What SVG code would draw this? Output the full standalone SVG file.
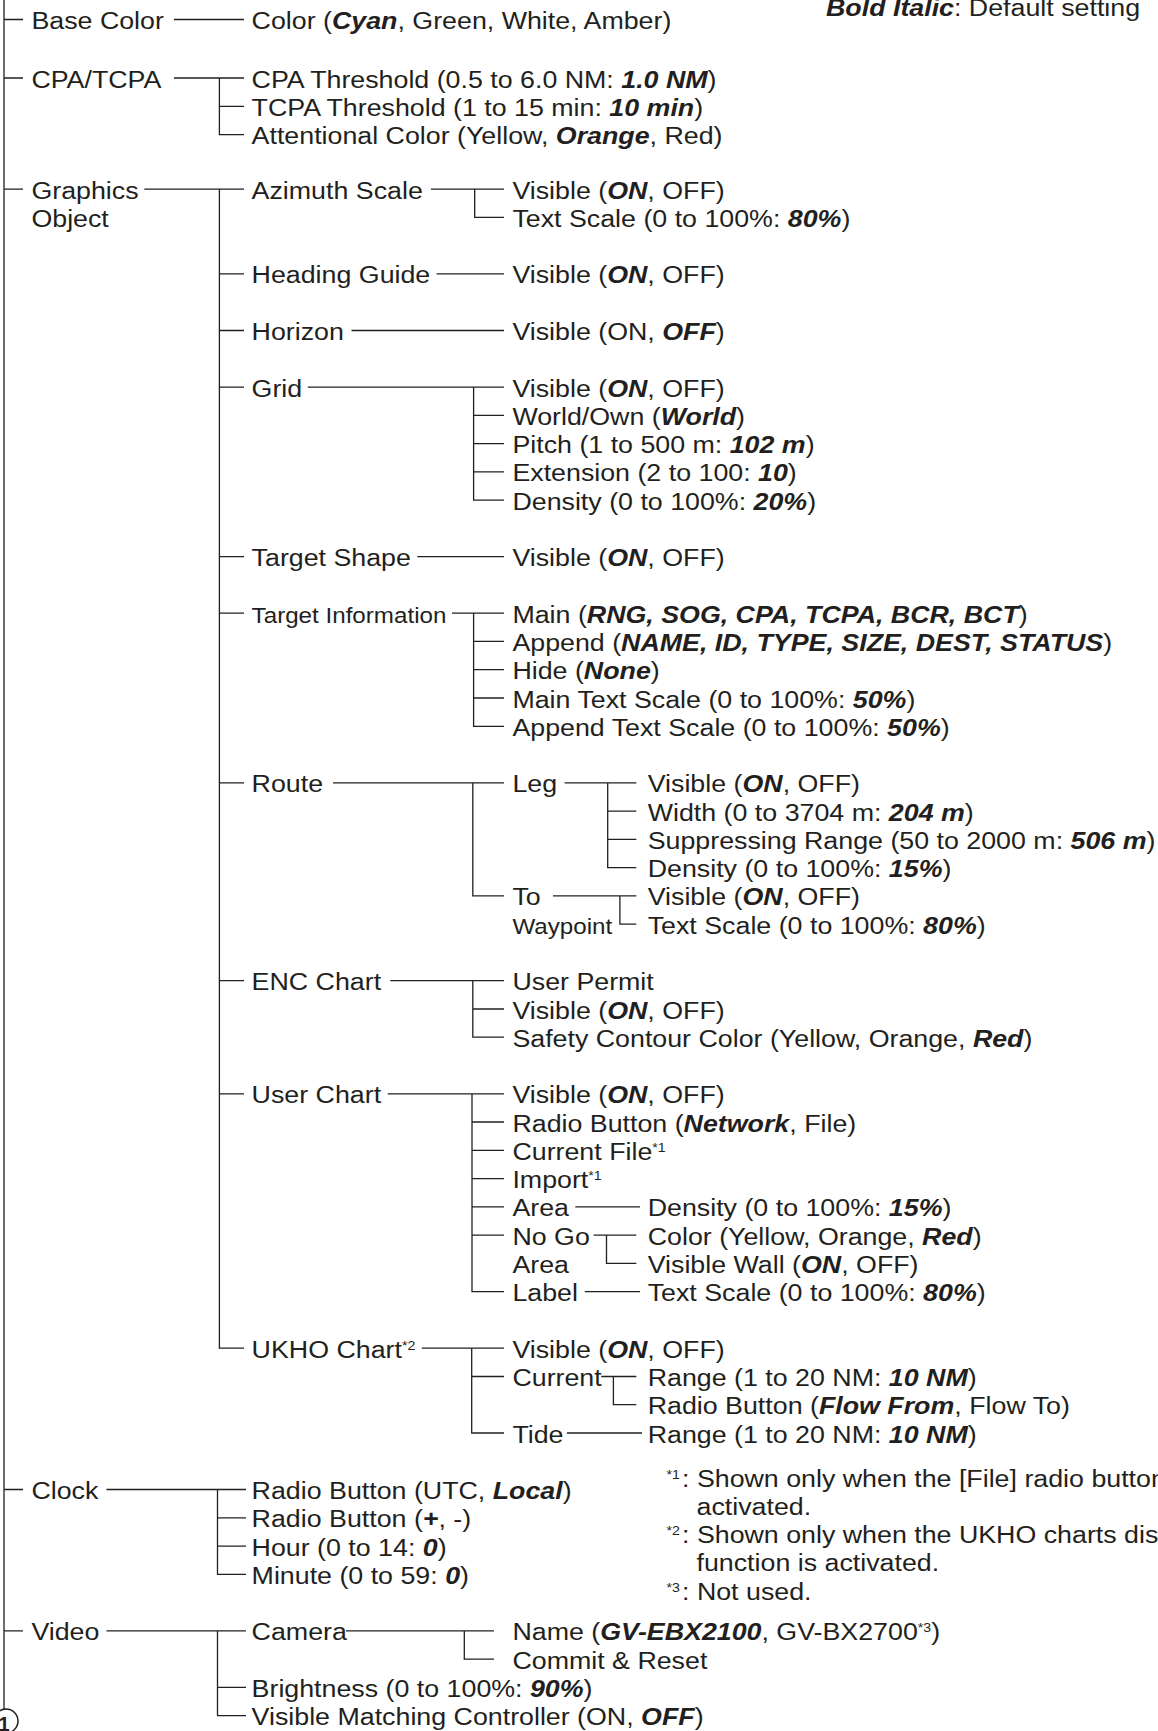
<svg xmlns="http://www.w3.org/2000/svg" width="1158" height="1731" viewBox="0 0 1158 1731">
<style>
text{font-family:"Liberation Sans",Arial,Helvetica,sans-serif;font-size:24.5px;fill:#231f20}
text.sm{font-size:22.5px}
.bi{font-weight:bold;font-style:italic}
.sup{font-size:13px}
#connectors path{stroke:#231f20;stroke-width:1.3;fill:none}
</style>
<rect width="1158" height="1731" fill="#ffffff"/>
<g id="connectors">
<path d="M4 0V1709M4 19.5H23M4 78H23M4 189.1H23M4 1489.5H23M4 1630.9H23"/>
<path d="M174 19.5H244"/>
<path d="M174 78H244M219.4 78V134.6H244M219.4 106.3H244"/>
<path d="M144.3 189.1H244M219.4 189.1V1348.2H244M219.4 273.9H244M219.4 330.5H244M219.4 387.1H244M219.4 556.6H244M219.4 613.2H244M219.4 782.8H244M219.4 980.7H244M219.4 1093.8H244"/>
<path d="M431 189.1H504M474.7 189.1V217.4H504"/>
<path d="M436.6 273.9H504"/>
<path d="M351.5 330.5H504"/>
<path d="M307.8 387.1H504M473.6 387.1V500.1H504M473.6 415.3H504M473.6 443.6H504M473.6 471.8H504"/>
<path d="M417.3 556.6H504"/>
<path d="M452 613.2H504M473.6 613.2V726.3H504M473.6 641.4H504M473.6 669.7H504M473.6 698H504"/>
<path d="M333 782.8H504M472.8 782.8V895.9H504"/>
<path d="M564.6 782.8H636.3M607.7 782.8V867.6H636.3M607.7 811.1H636.3M607.7 839.3H636.3"/>
<path d="M553 895.9H636.3M619.9 895.9V924.1H636.3"/>
<path d="M390.3 980.7H504M472.8 980.7V1037.2H504M472.8 1009H504"/>
<path d="M387.7 1093.8H504M472 1093.8V1291.7H504M472 1122H504M472 1150.3H504M472 1178.6H504M472 1206.8H504M472 1235.1H504"/>
<path d="M575.3 1206.8H640"/>
<path d="M593.6 1235.1H636.3M606.5 1235.1V1263.4H636.3"/>
<path d="M584.8 1291.7H640"/>
<path d="M421.8 1348.2H504M471.7 1348.2V1433H504M471.7 1376.5H504"/>
<path d="M601.2 1376.5H636.3M613.4 1376.5V1404.7H636.3"/>
<path d="M566.9 1433H642"/>
<path d="M106.5 1489.5H246M217.5 1489.5V1574.4H246M217.5 1517.8H246M217.5 1546.1H246"/>
<path d="M106.5 1630.9H246M217.5 1630.9V1715.7H246M217.5 1687.4H246"/>
<path d="M346 1630.9H494M464.3 1630.9V1659.2H494"/>
</g>
<g id="legend"><text transform="matrix(1.094 0 0 1 826 16)"><tspan class="bi">Bold Italic</tspan>: Default setting</text></g>
<g id="base-color"><text transform="matrix(1.094 0 0 1 31.4 29)">Base Color</text></g>
<g id="color"><text transform="matrix(1.094 0 0 1 251.6 29)">Color (<tspan class="bi">Cyan</tspan>, Green, White, Amber)</text></g>
<g id="cpa-tcpa"><text transform="matrix(1.094 0 0 1 31.4 87.5)">CPA/TCPA</text></g>
<g id="cpa-threshold"><text transform="matrix(1.094 0 0 1 251.6 87.5)">CPA Threshold (0.5 to 6.0 NM: <tspan class="bi">1.0 NM</tspan>)</text></g>
<g id="tcpa-threshold"><text transform="matrix(1.094 0 0 1 251.6 115.8)">TCPA Threshold (1 to 15 min: <tspan class="bi">10 min</tspan>)</text></g>
<g id="attentional-color"><text transform="matrix(1.094 0 0 1 251.6 144.1)">Attentional Color (Yellow, <tspan class="bi">Orange</tspan>, Red)</text></g>
<g id="graphics-object"><text transform="matrix(1.094 0 0 1 31.4 198.6)">Graphics</text><text transform="matrix(1.094 0 0 1 31.4 226.9)">Object</text></g>
<g id="azimuth-scale"><text transform="matrix(1.094 0 0 1 251.6 198.6)">Azimuth Scale</text></g>
<g id="az-visible"><text transform="matrix(1.094 0 0 1 512.4 198.6)">Visible (<tspan class="bi">ON</tspan>, OFF)</text></g>
<g id="az-text-scale"><text transform="matrix(1.094 0 0 1 512.4 226.9)">Text Scale (0 to 100%: <tspan class="bi">80%</tspan>)</text></g>
<g id="heading-guide"><text transform="matrix(1.094 0 0 1 251.6 283.4)">Heading Guide</text></g>
<g id="hg-visible"><text transform="matrix(1.094 0 0 1 512.4 283.4)">Visible (<tspan class="bi">ON</tspan>, OFF)</text></g>
<g id="horizon"><text transform="matrix(1.094 0 0 1 251.6 340)">Horizon</text></g>
<g id="hz-visible"><text transform="matrix(1.094 0 0 1 512.4 340)">Visible (ON, <tspan class="bi">OFF</tspan>)</text></g>
<g id="grid"><text transform="matrix(1.094 0 0 1 251.6 396.5)">Grid</text></g>
<g id="grid-visible"><text transform="matrix(1.094 0 0 1 512.4 396.5)">Visible (<tspan class="bi">ON</tspan>, OFF)</text></g>
<g id="grid-world"><text transform="matrix(1.094 0 0 1 512.4 424.8)">World/Own (<tspan class="bi">World</tspan>)</text></g>
<g id="grid-pitch"><text transform="matrix(1.094 0 0 1 512.4 453.1)">Pitch (1 to 500 m: <tspan class="bi">102 m</tspan>)</text></g>
<g id="grid-extension"><text transform="matrix(1.094 0 0 1 512.4 481.3)">Extension (2 to 100: <tspan class="bi">10</tspan>)</text></g>
<g id="grid-density"><text transform="matrix(1.094 0 0 1 512.4 509.6)">Density (0 to 100%: <tspan class="bi">20%</tspan>)</text></g>
<g id="target-shape"><text transform="matrix(1.094 0 0 1 251.6 566.1)">Target Shape</text></g>
<g id="ts-visible"><text transform="matrix(1.094 0 0 1 512.4 566.1)">Visible (<tspan class="bi">ON</tspan>, OFF)</text></g>
<g id="target-information"><text class="sm" transform="matrix(1.075 0 0 1 251.6 622.7)">Target Information</text></g>
<g id="ti-main"><text transform="matrix(1.094 0 0 1 512.4 622.7)">Main (<tspan class="bi">RNG, SOG, CPA, TCPA, BCR, BCT</tspan>)</text></g>
<g id="ti-append"><text transform="matrix(1.094 0 0 1 512.4 650.9)">Append (<tspan class="bi">NAME, ID, TYPE, SIZE, DEST, STATUS</tspan>)</text></g>
<g id="ti-hide"><text transform="matrix(1.094 0 0 1 512.4 679.2)">Hide (<tspan class="bi">None</tspan>)</text></g>
<g id="ti-main-scale"><text transform="matrix(1.094 0 0 1 512.4 707.5)">Main Text Scale (0 to 100%: <tspan class="bi">50%</tspan>)</text></g>
<g id="ti-append-scale"><text transform="matrix(1.094 0 0 1 512.4 735.8)">Append Text Scale (0 to 100%: <tspan class="bi">50%</tspan>)</text></g>
<g id="route"><text transform="matrix(1.094 0 0 1 251.6 792.3)">Route</text></g>
<g id="leg"><text transform="matrix(1.094 0 0 1 512.4 792.3)">Leg</text></g>
<g id="leg-visible"><text transform="matrix(1.094 0 0 1 647.7 792.3)">Visible (<tspan class="bi">ON</tspan>, OFF)</text></g>
<g id="leg-width"><text transform="matrix(1.094 0 0 1 647.7 820.6)">Width (0 to 3704 m: <tspan class="bi">204 m</tspan>)</text></g>
<g id="leg-suppressing"><text transform="matrix(1.094 0 0 1 647.7 848.8)">Suppressing Range (50 to 2000 m: <tspan class="bi">506 m</tspan>)</text></g>
<g id="leg-density"><text transform="matrix(1.094 0 0 1 647.7 877.1)">Density (0 to 100%: <tspan class="bi">15%</tspan>)</text></g>
<g id="to-waypoint"><text transform="matrix(1.094 0 0 1 512.4 905.4)">To</text><text class="sm" transform="matrix(1.075 0 0 1 512.4 933.6)">Waypoint</text></g>
<g id="wp-visible"><text transform="matrix(1.094 0 0 1 647.7 905.4)">Visible (<tspan class="bi">ON</tspan>, OFF)</text></g>
<g id="wp-text-scale"><text transform="matrix(1.094 0 0 1 647.7 933.6)">Text Scale (0 to 100%: <tspan class="bi">80%</tspan>)</text></g>
<g id="enc-chart"><text transform="matrix(1.094 0 0 1 251.6 990.2)">ENC Chart</text></g>
<g id="enc-permit"><text transform="matrix(1.094 0 0 1 512.4 990.2)">User Permit</text></g>
<g id="enc-visible"><text transform="matrix(1.094 0 0 1 512.4 1018.5)">Visible (<tspan class="bi">ON</tspan>, OFF)</text></g>
<g id="enc-safety"><text transform="matrix(1.094 0 0 1 512.4 1046.7)">Safety Contour Color (Yellow, Orange, <tspan class="bi">Red</tspan>)</text></g>
<g id="user-chart"><text transform="matrix(1.094 0 0 1 251.6 1103.3)">User Chart</text></g>
<g id="uc-visible"><text transform="matrix(1.094 0 0 1 512.4 1103.3)">Visible (<tspan class="bi">ON</tspan>, OFF)</text></g>
<g id="uc-radio"><text transform="matrix(1.094 0 0 1 512.4 1131.5)">Radio Button (<tspan class="bi">Network</tspan>, File)</text></g>
<g id="uc-current-file"><text transform="matrix(1.094 0 0 1 512.4 1159.8)">Current File<tspan class="sup" dy="-8">*1</tspan></text></g>
<g id="uc-import"><text transform="matrix(1.094 0 0 1 512.4 1188.1)">Import<tspan class="sup" dy="-8">*1</tspan></text></g>
<g id="uc-area"><text transform="matrix(1.094 0 0 1 512.4 1216.3)">Area</text></g>
<g id="area-density"><text transform="matrix(1.094 0 0 1 647.7 1216.3)">Density (0 to 100%: <tspan class="bi">15%</tspan>)</text></g>
<g id="uc-nogo"><text transform="matrix(1.094 0 0 1 512.4 1244.6)">No Go</text><text transform="matrix(1.094 0 0 1 512.4 1272.9)">Area</text></g>
<g id="nogo-color"><text transform="matrix(1.094 0 0 1 647.7 1244.6)">Color (Yellow, Orange, <tspan class="bi">Red</tspan>)</text></g>
<g id="nogo-wall"><text transform="matrix(1.094 0 0 1 647.7 1272.9)">Visible Wall (<tspan class="bi">ON</tspan>, OFF)</text></g>
<g id="uc-label"><text transform="matrix(1.094 0 0 1 512.4 1301.2)">Label</text></g>
<g id="label-text-scale"><text transform="matrix(1.094 0 0 1 647.7 1301.2)">Text Scale (0 to 100%: <tspan class="bi">80%</tspan>)</text></g>
<g id="ukho-chart"><text transform="matrix(1.094 0 0 1 251.6 1357.7)">UKHO Chart<tspan class="sup" dy="-8">*2</tspan></text></g>
<g id="ukho-visible"><text transform="matrix(1.094 0 0 1 512.4 1357.7)">Visible (<tspan class="bi">ON</tspan>, OFF)</text></g>
<g id="ukho-current"><text transform="matrix(1.094 0 0 1 512.4 1386)">Current</text></g>
<g id="current-range"><text transform="matrix(1.094 0 0 1 647.7 1386)">Range (1 to 20 NM: <tspan class="bi">10 NM</tspan>)</text></g>
<g id="current-radio"><text transform="matrix(1.094 0 0 1 647.7 1414.2)">Radio Button (<tspan class="bi">Flow From</tspan>, Flow To)</text></g>
<g id="ukho-tide"><text transform="matrix(1.094 0 0 1 512.4 1442.5)">Tide</text></g>
<g id="tide-range"><text transform="matrix(1.094 0 0 1 647.7 1442.5)">Range (1 to 20 NM: <tspan class="bi">10 NM</tspan>)</text></g>
<g id="clock"><text transform="matrix(1.094 0 0 1 31.4 1499)">Clock</text></g>
<g id="clock-radio1"><text transform="matrix(1.094 0 0 1 251.6 1499)">Radio Button (UTC, <tspan class="bi">Local</tspan>)</text></g>
<g id="clock-radio2"><text transform="matrix(1.094 0 0 1 251.6 1527.3)">Radio Button (<tspan class="bi">+</tspan>, -)</text></g>
<g id="clock-hour"><text transform="matrix(1.094 0 0 1 251.6 1555.6)">Hour (0 to 14: <tspan class="bi">0</tspan>)</text></g>
<g id="clock-minute"><text transform="matrix(1.094 0 0 1 251.6 1583.9)">Minute (0 to 59: <tspan class="bi">0</tspan>)</text></g>
<g id="footnotes">
<text class="sup" transform="matrix(1.094 0 0 1 666.5 1478.5)">*1</text>
<text transform="matrix(1.094 0 0 1 682 1486.5)">: Shown only when the [File] radio button</text>
<text transform="matrix(1.094 0 0 1 696.5 1514.8)">activated.</text>
<text class="sup" transform="matrix(1.094 0 0 1 666.5 1535)">*2</text>
<text transform="matrix(1.094 0 0 1 682 1543)">: Shown only when the UKHO charts display</text>
<text transform="matrix(1.094 0 0 1 696.5 1571.3)">function is activated.</text>
<text class="sup" transform="matrix(1.094 0 0 1 666.5 1591.6)">*3</text>
<text transform="matrix(1.094 0 0 1 682 1599.6)">: Not used.</text>
</g>
<g id="video"><text transform="matrix(1.094 0 0 1 31.4 1640.4)">Video</text></g>
<g id="camera"><text transform="matrix(1.094 0 0 1 251.6 1640.4)">Camera</text></g>
<g id="camera-name"><text transform="matrix(1.094 0 0 1 512.4 1640.4)">Name (<tspan class="bi">GV-EBX2100</tspan>, GV-BX2700<tspan class="sup" dy="-8">*3</tspan><tspan dy="8">)</tspan></text></g>
<g id="camera-commit"><text transform="matrix(1.094 0 0 1 512.4 1668.7)">Commit &amp; Reset</text></g>
<g id="brightness"><text transform="matrix(1.094 0 0 1 251.6 1696.9)">Brightness (0 to 100%: <tspan class="bi">90%</tspan>)</text></g>
<g id="matching-controller"><text transform="matrix(1.094 0 0 1 251.6 1725.2)">Visible Matching Controller (ON, <tspan class="bi">OFF</tspan>)</text></g>
<g id="page-connector"><circle cx="6" cy="1721" r="12" fill="#ffffff" stroke="#231f20" stroke-width="1.5"/><text x="4" y="1731" text-anchor="middle" style="font-weight:bold;font-size:20px">1</text></g>
</svg>
